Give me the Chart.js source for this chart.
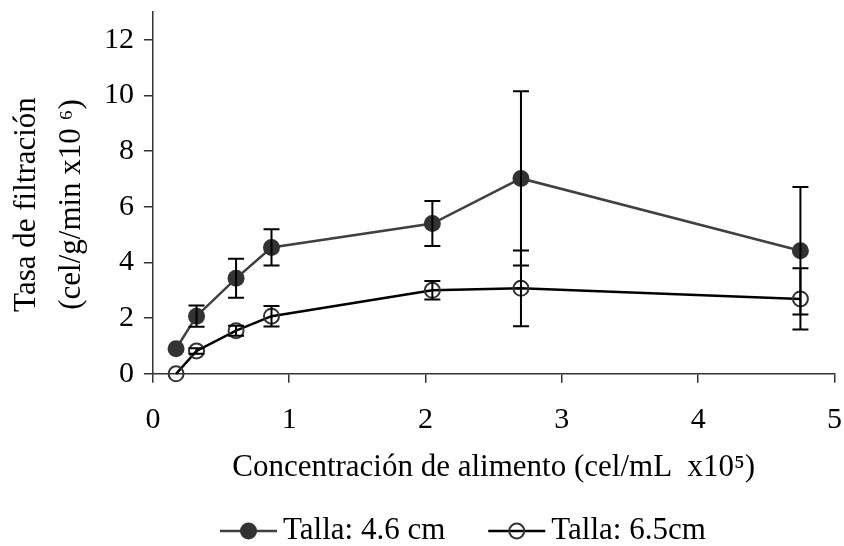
<!DOCTYPE html>
<html>
<head>
<meta charset="utf-8">
<script src="https://cdn.jsdelivr.net/npm/chart.js@4.4.1/dist/chart.umd.min.js"></script>
<style>
  html, body { margin: 0; padding: 0; background: #fff; }
  canvas { display: block; }
</style>
</head>
<body>
<canvas id="chart" width="844" height="546"></canvas>
<script>
// Food concentration (cel/mL x10^5)
const concentration = [0.17, 0.32, 0.61, 0.87, 2.05, 2.70, 4.75];

// Talla 4.6 cm
const rate46 = [0.90, 2.07, 3.43, 4.54, 5.40, 7.02, 4.42];
const err46 = [0, 0.38, 0.70, 0.65, 0.81, 3.13, 2.29];

// Talla 6.5 cm
const rate65 = [0.00, 0.82, 1.55, 2.07, 3.00, 3.07, 2.69];
const err65 = [0, 0.10, 0.18, 0.37, 0.33, 1.36, 1.10];

const xTicks = [0, 1, 2, 3, 4, 5];
const yTicks = [0, 2, 4, 6, 8, 10, 12];

const FONT = "'Liberation Serif', 'Times New Roman', serif";

// error bars drawn over the lines
const errorBars = {
    id: 'errorBars',
    afterDatasetsDraw(chart) {
        const ctx = chart.ctx;
        const xs = chart.scales.x;
        const ys = chart.scales.y;
        const sets = [[rate46, err46], [rate65, err65]];
        ctx.save();
        ctx.strokeStyle = '#000';
        ctx.lineWidth = 2;
        sets.forEach(([vals, errs]) => {
            vals.forEach((v, i) => {
                if (!errs[i]) return;
                const px = xs.getPixelForValue(concentration[i]);
                const top = ys.getPixelForValue(v + errs[i]);
                const bot = ys.getPixelForValue(v - errs[i]);
                ctx.beginPath();
                ctx.moveTo(px, top);
                ctx.lineTo(px, bot);
                ctx.moveTo(px - 8, top);
                ctx.lineTo(px + 8, top);
                ctx.moveTo(px - 8, bot);
                ctx.lineTo(px + 8, bot);
                ctx.stroke();
            });
        });
        ctx.restore();
    }
};

// legend at the bottom: line with marker, then label
const lineLegend = {
    id: 'lineLegend',
    afterDraw(chart) {
        const ctx = chart.ctx;
        const y = 531;
        let x = 220;
        ctx.save();
        ctx.font = '31px ' + FONT;
        ctx.textBaseline = 'middle';
        ctx.textAlign = 'left';
        chart.data.datasets.forEach(ds => {
            ctx.strokeStyle = ds.borderColor;
            ctx.lineWidth = 2.5;
            ctx.beginPath();
            ctx.moveTo(x, y);
            ctx.lineTo(x + 57, y);
            ctx.stroke();
            ctx.beginPath();
            ctx.arc(x + 28.5, y, ds.pointRadius, 0, Math.PI * 2);
            if (ds.pointBorderWidth) {
                ctx.strokeStyle = ds.pointBorderColor;
                ctx.lineWidth = ds.pointBorderWidth;
                ctx.stroke();
            } else {
                ctx.fillStyle = ds.pointBackgroundColor;
                ctx.fill();
            }
            ctx.fillStyle = '#000';
            ctx.fillText(ds.label, x + 63, y);
            x += 63 + ctx.measureText(ds.label).width + 43;
        });
        ctx.restore();
    }
};

new Chart(document.getElementById('chart'), {
    type: 'line',
    data: {
        datasets: [
            {
                label: 'Talla: 4.6 cm',
                data: concentration.map((x, i) => ({ x: x, y: rate46[i] })),
                borderColor: '#404040',
                borderWidth: 2.5,
                pointRadius: 8.5,
                pointBackgroundColor: '#333',
                pointBorderColor: '#333',
                pointBorderWidth: 0,
                pointStyle: 'circle',
                fill: false,
                tension: 0
            },
            {
                label: 'Talla: 6.5cm',
                data: concentration.map((x, i) => ({ x: x, y: rate65[i] })),
                borderColor: '#000',
                borderWidth: 2.5,
                pointRadius: 7.5,
                pointBackgroundColor: 'rgba(0,0,0,0)',
                pointBorderColor: '#333',
                pointBorderWidth: 2,
                pointStyle: 'circle',
                fill: false,
                tension: 0
            }
        ]
    },
    options: {
        responsive: false,
        animation: false,
        clip: false,
        layout: { padding: { top: 2, right: 0, left: 4, bottom: 60 } },
        plugins: {
            tooltip: { enabled: false },
            legend: { display: false }
        },
        scales: {
            x: {
                type: 'linear',
                min: 0,
                max: 5,
                afterBuildTicks(scale) {
                    scale.ticks = xTicks.map(v => ({ value: v }));
                },
                afterFit(scale) {
                    // only room for half of the last label on the right
                    scale.paddingRight = 7;
                },
                grid: {
                    drawOnChartArea: false,
                    drawTicks: true,
                    tickLength: 9,
                    color: '#333',
                    lineWidth: 1.5
                },
                border: { display: true, color: '#333', width: 1.5 },
                ticks: {
                    color: '#000',
                    font: { family: FONT, size: 30 },
                    padding: 19,
                    maxRotation: 0
                },
                title: {
                    display: true,
                    text: 'Concentración de alimento (cel/mL  x10⁵)',
                    color: '#000',
                    font: { family: FONT, size: 31 },
                    padding: { top: -8, bottom: 0 }
                }
            },
            y: {
                type: 'linear',
                min: 0,
                max: 13,
                afterBuildTicks(scale) {
                    scale.ticks = yTicks.map(v => ({ value: v }));
                },
                afterFit(scale) {
                    scale.paddingTop = 12;
                },
                grid: {
                    drawOnChartArea: false,
                    drawTicks: true,
                    tickLength: 9,
                    color: '#333',
                    lineWidth: 1.5
                },
                border: { display: true, color: '#333', width: 1.5 },
                ticks: {
                    color: '#000',
                    font: { family: FONT, size: 30, lineHeight: 0.8 },
                    padding: 10
                },
                title: {
                    display: true,
                    text: ['Tasa de filtración   ', '(cel/g/min x10 ⁶)   '],
                    color: '#000',
                    font: { family: FONT, size: 31, lineHeight: 1.45 },
                    padding: { top: 0, bottom: 0 }
                }
            }
        }
    },
    plugins: [errorBars, lineLegend]
});
</script>
</body>
</html>
